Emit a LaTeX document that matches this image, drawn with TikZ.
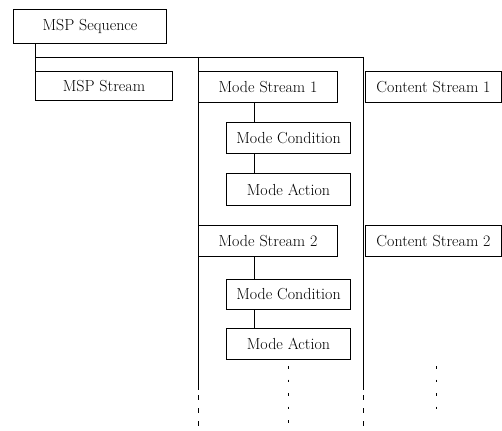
\documentclass[tikz,border=0pt]{standalone}
\begin{document}
\begin{tikzpicture}[x=1pt,y=-1pt,
  box/.style={draw,line width=1pt,rectangle,inner sep=0pt,minimum width=#1,minimum height=31pt,
    font=\fontsize{16}{19}\selectfont,anchor=north west},
  box/.default=124pt,
  link/.style={line width=0.9pt},
  tail/.style={line width=0.9pt,dash pattern=on 5pt off 8pt},
  dots/.style={line width=1pt,dash pattern=on 2.5pt off 11pt}]
\useasboundingbox (0,0) rectangle (502,430);
\node[box=153pt,minimum height=34pt] (seq) at (13,9) {MSP Sequence};
\node[box=137pt,minimum height=29pt] (msp) at (35,71) {MSP Stream};
\node[box=139pt] (ms1) at (198,71) {Mode Stream 1};
\node[box=136pt] (cs1) at (365,71) {Content Stream 1};
\node[box] (mc1) at (226,122) {Mode Condition};
\node[box,minimum height=32pt] (ma1) at (226,173) {Mode Action};
\node[box=139pt] (ms2) at (198,225) {Mode Stream 2};
\node[box=136pt] (cs2) at (365,225) {Content Stream 2};
\node[box,minimum height=30pt] (mc2) at (226,279) {Mode Condition};
\node[box] (ma2) at (226,328) {Mode Action};
\coordinate (bar) at (35,57);
\coordinate (laneA) at (198,57);
\coordinate (laneB) at (363,57);
\coordinate (laneAs) at (198,390);
\coordinate (laneBs) at (363,390);
\coordinate (laneAe) at (198,430);
\coordinate (laneBe) at (363,430);
\coordinate (col) at (254,0);
\coordinate (dA) at (288,366);
\coordinate (dAe) at (288,425);
\coordinate (dB) at (436,366);
\coordinate (dBe) at (436,412);
\draw[link] (seq.south -| msp.west) -- (msp.north west);
\draw[link] (bar) -- (laneB);
\draw[link] (laneA) -- (laneAs);
\draw[link] (laneB) -- (laneBs);
\draw[tail] ([yshift=8pt]laneAs) -- (laneAe);
\draw[tail] ([yshift=8pt]laneBs) -- (laneBe);
\draw[link] (col |- ms1.south) -- (col |- mc1.north);
\draw[link] (col |- mc1.south) -- (col |- ma1.north);
\draw[link] (col |- ms2.south) -- (col |- mc2.north);
\draw[link] (col |- mc2.south) -- (col |- ma2.north);
\draw[dots] (dA) -- (dAe);
\draw[dots] (dB) -- (dBe);
\end{tikzpicture}
\end{document}
